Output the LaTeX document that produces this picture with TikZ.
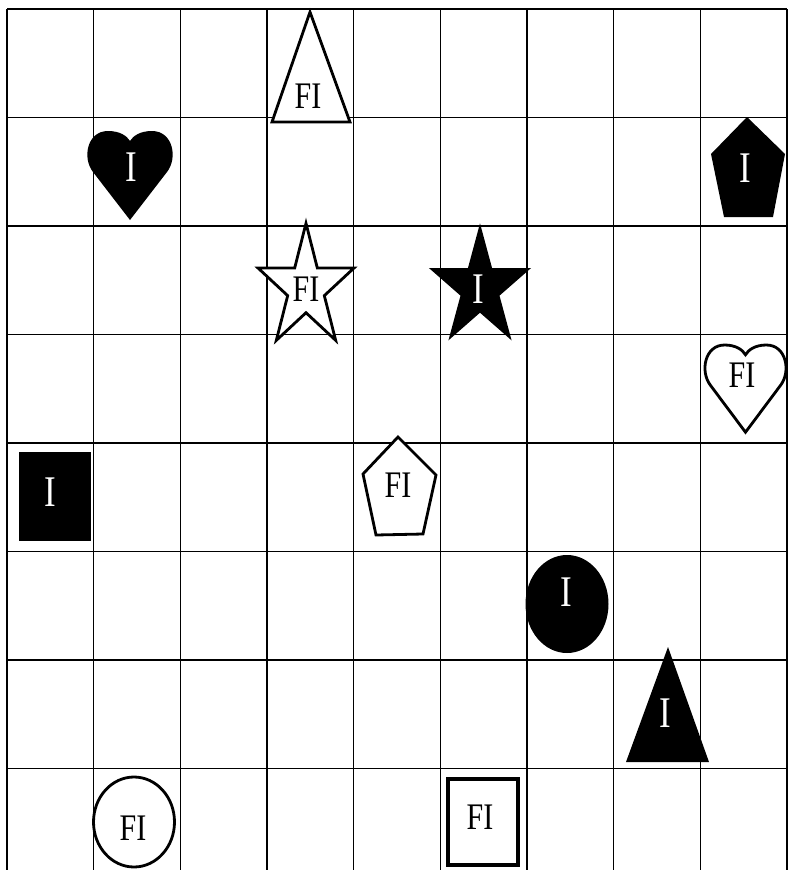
\documentclass[tikz,border=0pt]{standalone}
\usepackage{fontspec}
\setmainfont{Liberation Serif}
\newcommand\tallLabel[1]{\scalebox{1}[1.25]{#1}}
\tikzset{
	heart/.pic={\path[pic actions] (0,89) -- (-37,41) .. controls (-48,27) and (-43,0) .. (-22,0) .. controls (-10,0) and (-3,5) .. (0,10) .. controls (3,5) and (10,0) .. (22,0) .. controls (43,0) and (48,27) .. (37,41) -- cycle;}
}
\begin{document}
\begin{tikzpicture}[x=1pt,y=-1pt,
	gridline/.style={line width=1.4pt},
	outlined/.style={draw,line width=2.8pt,fill=white},
	inked/.style={fill=black},
	lblFI/.style={inner sep=0pt,font=\fontsize{30}{30}\selectfont},
	lblI/.style={inner sep=0pt,text=white,font=\fontsize{35}{35}\selectfont}]
	% --- Khung hình ---
	\useasboundingbox (0,0) rectangle (788,870);
	\def\xo{7} \def\yo{9}
	\def\dx{86.67} \def\dy{108.5}
	% --- Lưới ô ---
	\foreach \i in {0,...,9}
		\draw[gridline] ({\xo+\dx*\i},\yo) -- ({\xo+\dx*\i},870);
	\foreach \j in {0,...,7}
		\draw[gridline] (\xo,{\yo+\dy*\j}) -- ({\xo+9*\dx},{\yo+\dy*\j});
	% --- Hình trắng (FI) ---
	\draw[outlined] (310,12) -- (350,122) -- (272,122) -- cycle;
	\draw[outlined,shift={(306,288)},xscale=.78] (-90:64.7)
		\foreach \k in {1,...,9}{ -- ({-90+36*\k}:{ifthenelse(isodd(\k),24.7,64.7)}) } -- cycle;
	\pic[outlined,xscale=.95,yscale=.98] at (745.5,345) {heart};
	\draw[outlined] (398,437) -- (436,475) -- (423,534) -- (376,535) -- (363,474) -- cycle;
	\draw[outlined] (134,822) ellipse [x radius=40.5, y radius=45];
	\draw[outlined,line width=3.6pt] (448,779) rectangle (518,865);
	% --- Hình đen (I) ---
	\pic[inked] at (130,131) {heart};
	\fill[inked] (747,117) -- (785,154) -- (773,217) -- (724,217) -- (711,154) -- cycle;
	\fill[inked,shift={(480,288)},xscale=.83] (-90:64.7)
		\foreach \k in {1,...,9}{ -- ({-90+36*\k}:{ifthenelse(isodd(\k),24.7,64.7)}) } -- cycle;
	\fill[inked] (19,452) rectangle (91,541);
	\fill[inked] (567,604) ellipse [x radius=41.5, y radius=49];
	\fill[inked] (668,647) -- (709,762) -- (626,762) -- cycle;
	% --- Nhãn ---
	\node[lblFI] (triFI) at (308,96) {\tallLabel{FI}};
	\node[lblFI] (starFI) at (306,289) {\tallLabel{FI}};
	\node[lblFI] (heartFI) at (742,375) {\tallLabel{FI}};
	\node[lblFI] (pentFI) at (398,485) {\tallLabel{FI}};
	\node[lblFI] (ellFI) at (133,828) {\tallLabel{FI}};
	\node[lblFI] (rectFI) at (480,817) {\tallLabel{FI}};
	\node[lblI] (heartI) at (131,167) {\tallLabel{I}};
	\node[lblI] (pentI) at (745,168) {\tallLabel{I}};
	\node[lblI] (starI) at (478,289) {\tallLabel{I}};
	\node[lblI] (rectI) at (50,492) {\tallLabel{I}};
	\node[lblI] (ellI) at (566,592) {\tallLabel{I}};
	\node[lblI] (triI) at (665,713) {\tallLabel{I}};
\end{tikzpicture}
\end{document}
